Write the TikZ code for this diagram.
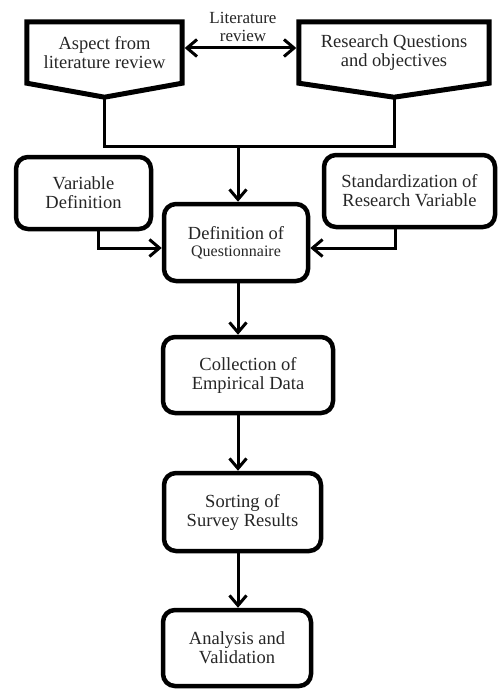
\documentclass[tikz,border=0pt]{standalone}
\usepackage{fontspec}
\setmainfont{Liberation Serif}
\usetikzlibrary{arrows.meta,calc}
\begin{document}
\begin{tikzpicture}[x=1pt,y=-1pt,
  txt/.style={font=\fontsize{18.5}{19}\selectfont, text=black!85, align=center, inner sep=0pt},
  rbox/.style={txt, draw, line width=4.5pt, rounded corners=12pt},
  pentbox/.style={txt},
  pent/.style={line width=5pt, line join=miter},
  conn/.style={line width=3pt},
  tip/.style={},
  arr/.style={conn, -{Straight Barb[length=10pt,width=17pt,line width=3pt]}},
]
\useasboundingbox (0,0) rectangle (500,690);

% pentagons
\node[pentbox, minimum width=155pt, minimum height=61pt] (asp) at (104.5,52.5) {Aspect from\\literature review};
\draw[pent] (asp.south west) -- (asp.north west) -- (asp.north east) -- (asp.south east) -- ($(asp.south)+(0,14)$) coordinate (aspT) -- cycle;
\node[pentbox, minimum width=190pt, minimum height=61pt] (res) at (394,52.5) {Research Questions\\and objectives};
\draw[pent] (res.south west) -- (res.north west) -- (res.north east) -- (res.south east) -- ($(res.south)+(0,14)$) coordinate (resT) -- cycle;

% literature review arrow
\node[txt, font=\fontsize{17}{17.5}\selectfont] (lit) at (243,27) {Literature\\review};
\coordinate (litY) at (0,48);
\draw[conn, {Straight Barb[length=10pt,width=17pt,line width=3pt]}-{Straight Barb[length=10pt,width=17pt,line width=3pt]}]
  ([xshift=2.5pt]asp.east |- litY) -- ([xshift=-2.5pt]res.west |- litY);

% boxes
\node[rbox, minimum width=135pt, minimum height=72pt] (var) at (83.5,193) {Variable\\Definition};
\node[rbox, minimum width=171pt, minimum height=72pt] (std) at (409.5,191) {Standardization of\\Research Variable};
\node[rbox, minimum width=144pt, minimum height=77pt] (def) at (236,242.5) {Definition of\\[-2pt]{\fontsize{16}{17}\selectfont Questionnaire}};
\node[rbox, minimum width=170pt, minimum height=76pt] (col) at (248,375) {Collection of\\Empirical Data};
\node[rbox, minimum width=157pt, minimum height=78pt] (sort) at (242.5,512) {Sorting of\\Survey Results};
\node[rbox, minimum width=148pt, minimum height=76pt] (ana) at (237,648) {Analysis and\\Validation};

% connectors
\coordinate (join) at (238,146);
\draw[conn] (aspT) |- (join);
\draw[conn] (resT) |- (join);
\draw[arr] (join) -- (join |- def.north);
\draw[arr] ([xshift=14.5pt]var.south) |- ([yshift=-5.5pt]def.west);
\draw[arr] ([xshift=-14.5pt]std.south) |- ([yshift=-5.5pt]def.east);
\draw[arr] (def.south -| join) -- (col.north -| join);
\draw[arr] (col.south -| join) -- (sort.north -| join);
\draw[arr] (sort.south -| join) -- (ana.north -| join);
\end{tikzpicture}
\end{document}
